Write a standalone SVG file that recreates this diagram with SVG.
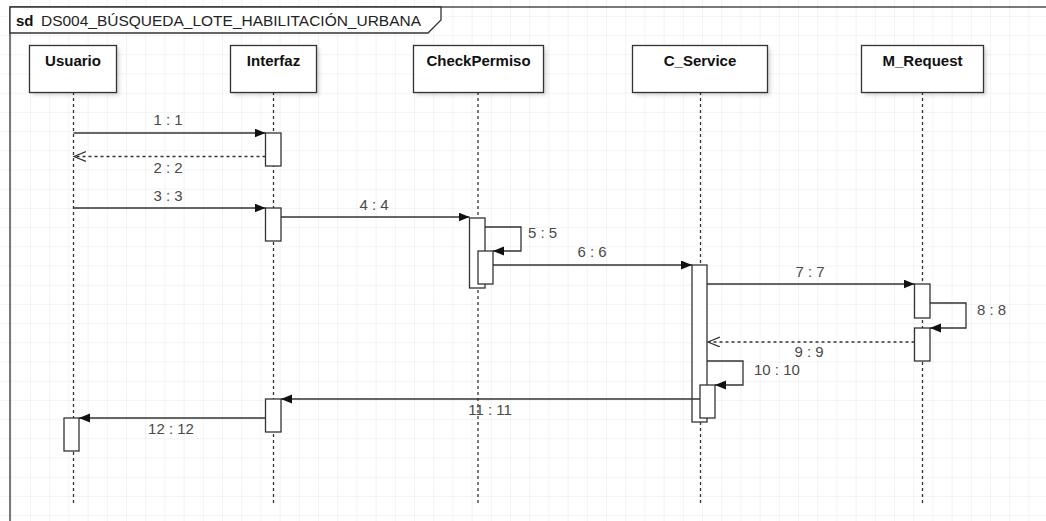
<svg xmlns="http://www.w3.org/2000/svg" width="1046" height="521" viewBox="0 0 1046 521">
<style>
.head rect.b{fill:#fff;stroke:#333;stroke-width:1.3}
.head text{font-family:"Liberation Sans",Arial,sans-serif;font-size:15px;font-weight:bold;fill:#111;text-anchor:middle}
.life{stroke:#333;stroke-width:1.3;stroke-dasharray:3 3;fill:none}
.act{fill:#fff;stroke:#333;stroke-width:1.3}
.msg{stroke:#333;stroke-width:1.3;fill:none;marker-end:url(#tri)}
.ret{stroke:#333;stroke-width:1.3;fill:none;stroke-dasharray:3 3;marker-end:url(#open)}
.lbl{font-family:"Liberation Sans",Arial,sans-serif;font-size:15px;fill:#4a4a4a}
.c{text-anchor:middle}
</style>
<defs>
<pattern id="grid" width="19.2" height="19.2" patternUnits="userSpaceOnUse" x="10.8" y="15.9">
<path d="M19.2 0 L0 0 0 19.2" fill="none" stroke="#e8e8e8" stroke-width="1"/>
</pattern>
<filter id="sh" x="-20%" y="-20%" width="150%" height="150%">
<feGaussianBlur stdDeviation="2"/>
</filter>
<marker id="tri" markerWidth="12" markerHeight="10" refX="11" refY="4.5" orient="auto" markerUnits="userSpaceOnUse">
<path d="M0,0 L11,4.5 L0,9 z" fill="#111"/>
</marker>
<marker id="open" markerWidth="14" markerHeight="12" refX="12" refY="5" orient="auto" markerUnits="userSpaceOnUse">
<path d="M0,0 L12,5 L0,10" fill="none" stroke="#333" stroke-width="1.2"/>
</marker>
</defs>
<rect width="1046" height="521" fill="#fff"/>
<rect width="1046" height="521" fill="url(#grid)"/>
<g id="frame">
<rect x="10" y="7" width="1050" height="530" fill="none" stroke="#333" stroke-width="1.3"/>
<path d="M10,7 H441 V20 L428,33 H10 Z" fill="#fff" stroke="#333" stroke-width="1.3"/>
<text x="16" y="26" font-family="Liberation Sans, Arial, sans-serif" font-size="15" font-weight="bold" fill="#111">sd</text>
<text x="41" y="26" font-family="Liberation Sans, Arial, sans-serif" font-size="15" fill="#222" textLength="380" lengthAdjust="spacingAndGlyphs">DS004_BÚSQUEDA_LOTE_HABILITACIÓN_URBANA</text>
</g>
<g id="lifelines">
<line class="life" x1="73.5" y1="92" x2="73.5" y2="503"/>
<line class="life" x1="273.5" y1="92" x2="273.5" y2="503"/>
<line class="life" x1="478" y1="92" x2="478" y2="503"/>
<line class="life" x1="700.5" y1="92" x2="700.5" y2="503"/>
<line class="life" x1="922.5" y1="92" x2="922.5" y2="503"/>
</g>
<g id="usuario" class="head">
<rect x="32" y="48" width="87" height="47" fill="#000" opacity="0.18" filter="url(#sh)"/>
<rect class="b" x="29.5" y="45.5" width="87" height="47"/>
<text x="73" y="66">Usuario</text>
<rect class="act" x="64" y="418" width="15" height="33"/>
</g>
<g id="interfaz" class="head">
<rect x="233" y="48" width="86" height="47" fill="#000" opacity="0.18" filter="url(#sh)"/>
<rect class="b" x="230.5" y="45.5" width="86" height="47"/>
<text x="273.5" y="66">Interfaz</text>
<rect class="act" x="265.5" y="133" width="15.5" height="33"/>
<rect class="act" x="265.5" y="208" width="15.5" height="33"/>
<rect class="act" x="265.5" y="399" width="15.5" height="33"/>
</g>
<g id="checkpermiso" class="head">
<rect x="416" y="48" width="130" height="47" fill="#000" opacity="0.18" filter="url(#sh)"/>
<rect class="b" x="413.5" y="45.5" width="130" height="47"/>
<text x="478.5" y="66">CheckPermiso</text>
<rect class="act" x="469.5" y="218" width="15.5" height="70"/>
<rect class="act" x="478" y="251" width="15" height="33"/>
</g>
<g id="c_service" class="head">
<rect x="635" y="48" width="135" height="47" fill="#000" opacity="0.18" filter="url(#sh)"/>
<rect class="b" x="632.5" y="45.5" width="135" height="47"/>
<text x="700" y="66">C_Service</text>
<rect class="act" x="692" y="265" width="15" height="157"/>
<rect class="act" x="700" y="385" width="15" height="33"/>
</g>
<g id="m_request" class="head">
<rect x="864" y="48" width="122" height="47" fill="#000" opacity="0.18" filter="url(#sh)"/>
<rect class="b" x="861.5" y="45.5" width="122" height="47"/>
<text x="922.5" y="66">M_Request</text>
<rect class="act" x="914.5" y="284" width="15.5" height="34"/>
<rect class="act" x="914.5" y="328" width="15.5" height="33"/>
</g>
<g id="connectors">
<line class="msg" x1="73.5" y1="133" x2="265.5" y2="133"/>
<text class="lbl c" x="168" y="125">1 : 1</text>
<line class="ret" x1="265.5" y1="156.5" x2="74" y2="156.5"/>
<text class="lbl c" x="168" y="173">2 : 2</text>
<line class="msg" x1="73.5" y1="208" x2="265.5" y2="208"/>
<text class="lbl c" x="168" y="201">3 : 3</text>
<line class="msg" x1="281" y1="217" x2="469.5" y2="217"/>
<text class="lbl c" x="374" y="210">4 : 4</text>
<path class="msg" d="M485,227 H521 V251 H493"/>
<text class="lbl" x="528" y="238">5 : 5</text>
<line class="msg" x1="493" y1="265" x2="692" y2="265"/>
<text class="lbl c" x="592" y="257">6 : 6</text>
<line class="msg" x1="707" y1="284" x2="914.5" y2="284"/>
<text class="lbl c" x="810" y="277">7 : 7</text>
<path class="msg" d="M930,303 H966 V328 H930"/>
<text class="lbl" x="977" y="315">8 : 8</text>
<line class="ret" x1="914.5" y1="342" x2="708" y2="342"/>
<text class="lbl c" x="809" y="357">9 : 9</text>
<path class="msg" d="M707,361 H743 V385 H715"/>
<text class="lbl" x="754" y="375">10 : 10</text>
<line class="msg" x1="700" y1="399" x2="281" y2="399"/>
<text class="lbl c" x="490" y="415">11 : 11</text>
<line class="msg" x1="265.5" y1="418" x2="79" y2="418"/>
<text class="lbl c" x="171" y="434">12 : 12</text>
</g>
</svg>
